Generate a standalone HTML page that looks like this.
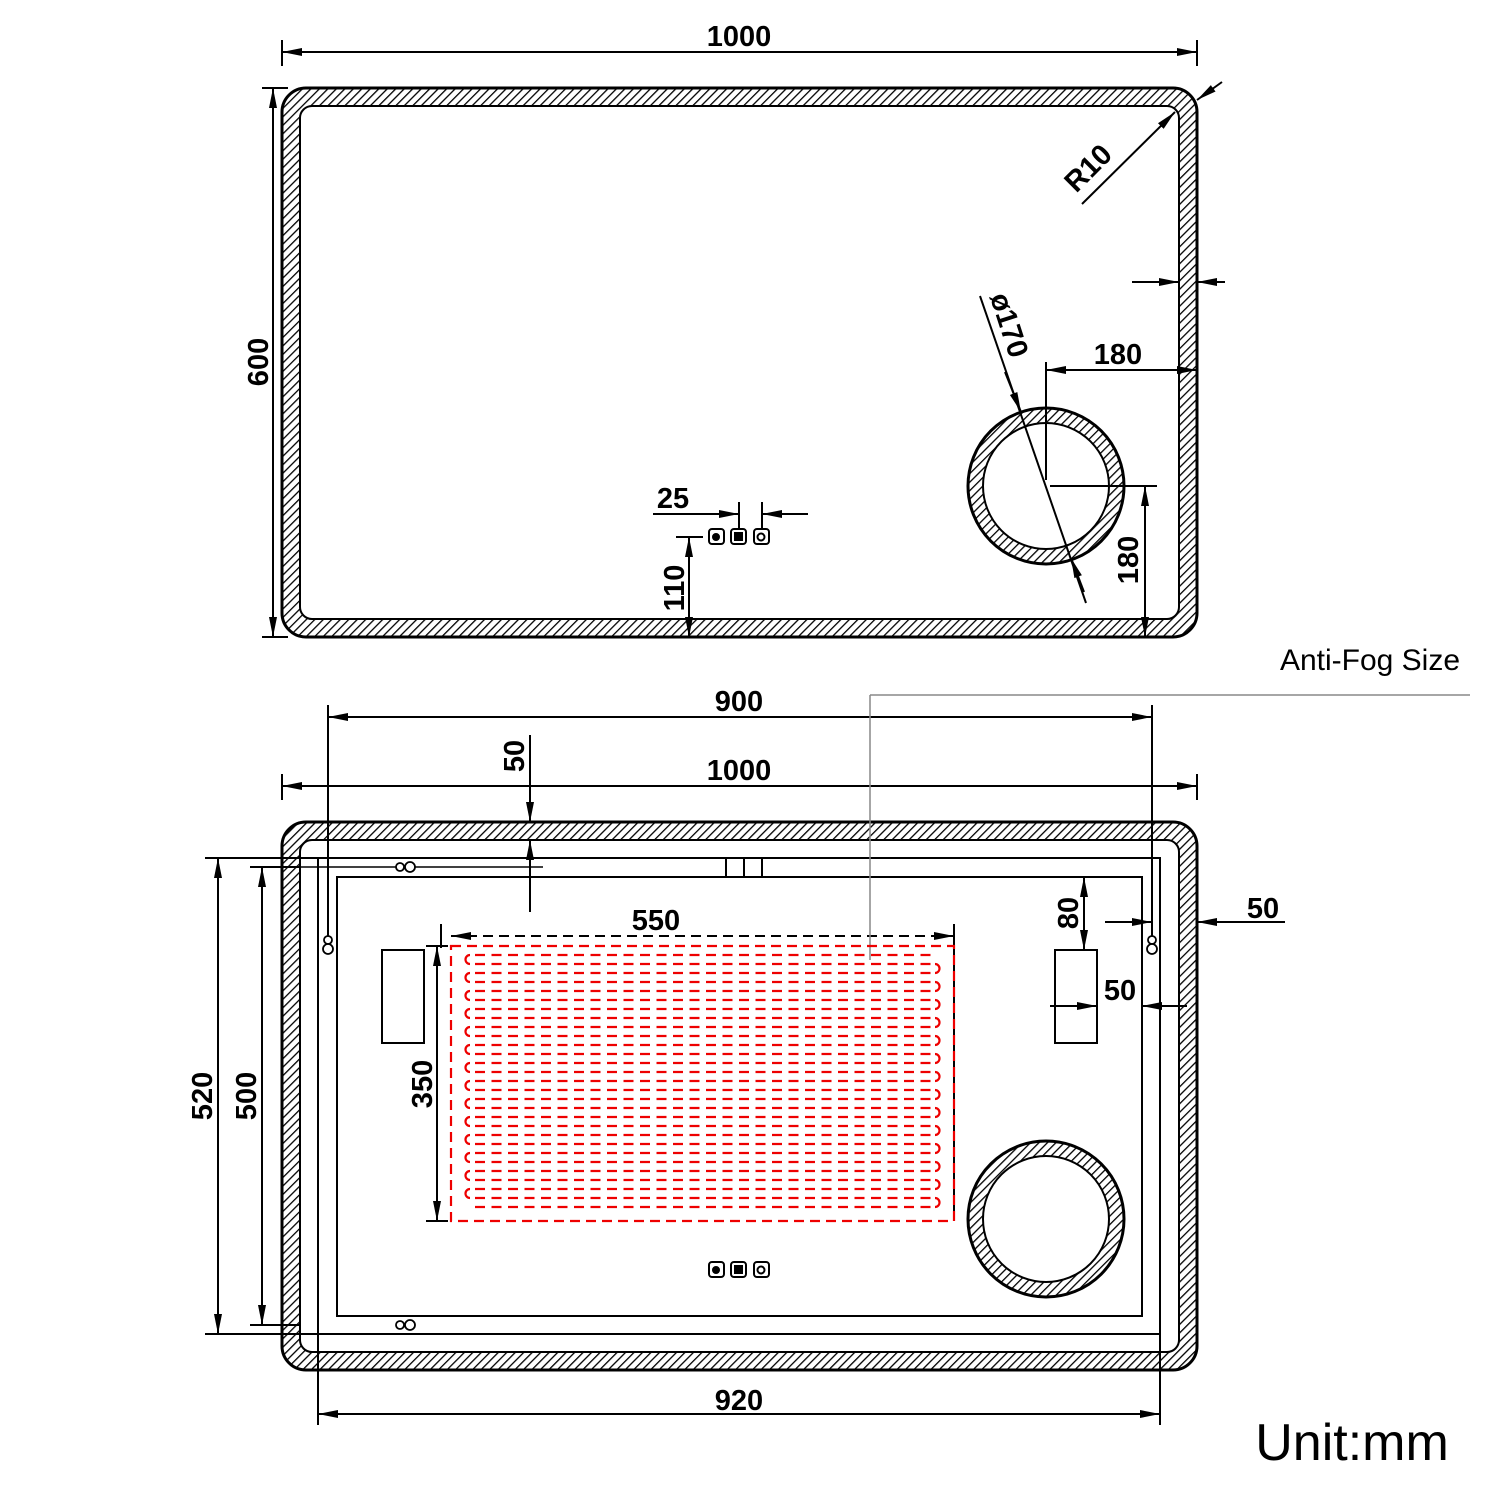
<!DOCTYPE html>
<html><head><style>body{margin:0;background:#fff}svg{display:block}text{font-family:"Liberation Sans",sans-serif;font-weight:bold;font-size:29px;fill:#000}</style></head><body>
<svg width="1500" height="1500" viewBox="0 0 1500 1500" xmlns="http://www.w3.org/2000/svg">
<defs>
<pattern id="h" width="6" height="6" patternUnits="userSpaceOnUse" patternTransform="rotate(45)"><rect width="6" height="6" fill="#fff"/><line x1="0" y1="0" x2="0" y2="6" stroke="#000" stroke-width="2.6"/></pattern>
<marker id="a" markerWidth="20" markerHeight="10" refX="20" refY="5" orient="auto-start-reverse" markerUnits="userSpaceOnUse"><path d="M0,1 L20,5 L0,9z" fill="#000"/></marker>
</defs>
<g stroke="#000" stroke-width="2" fill="none">
<rect x="282" y="88" width="915" height="549" rx="24" fill="url(#h)" stroke-width="3"/>
<rect x="300" y="106" width="879" height="513" rx="12" fill="#fff"/>
<circle cx="1046" cy="486" r="78" fill="url(#h)" stroke-width="3"/>
<circle cx="1046" cy="486" r="63" fill="#fff"/>
<rect x="282" y="822" width="915" height="548" rx="24" fill="url(#h)" stroke-width="3"/>
<rect x="300" y="840" width="879" height="512" rx="12" fill="#fff"/>
<rect x="318" y="858" width="842" height="476"/>
<rect x="337" y="877" width="805" height="439"/>
<circle cx="1046" cy="1219" r="78" fill="url(#h)" stroke-width="3"/>
<circle cx="1046" cy="1219" r="63" fill="#fff"/>
<line x1="726" y1="858" x2="726" y2="877"/><line x1="744" y1="858" x2="744" y2="877"/><line x1="762" y1="858" x2="762" y2="877"/>
<rect x="382" y="950" width="42" height="93"/>
<rect x="1055" y="950" width="42" height="93"/>
<line x1="282" y1="40" x2="282" y2="66"/><line x1="1197" y1="40" x2="1197" y2="66"/>
<line x1="282" y1="52" x2="1197" y2="52" marker-start="url(#a)" marker-end="url(#a)"/>
<line x1="262" y1="88" x2="288" y2="88"/><line x1="262" y1="637" x2="288" y2="637"/>
<line x1="273" y1="88" x2="273" y2="637" marker-start="url(#a)" marker-end="url(#a)"/>
<line x1="1082" y1="204" x2="1175" y2="112" marker-end="url(#a)"/><line x1="1222" y1="82" x2="1197" y2="100" marker-end="url(#a)"/>
<line x1="1132" y1="282" x2="1179" y2="282" marker-end="url(#a)"/><line x1="1225" y1="282" x2="1197" y2="282" marker-end="url(#a)"/>
<line x1="1046" y1="362" x2="1046" y2="480"/>
<line x1="1046" y1="370" x2="1197" y2="370" marker-start="url(#a)" marker-end="url(#a)"/>
<line x1="1050" y1="486" x2="1157" y2="486"/>
<line x1="1145" y1="486" x2="1145" y2="637" marker-start="url(#a)" marker-end="url(#a)"/>
<line x1="980" y1="296" x2="1086" y2="603"/>
<line x1="1005" y1="372" x2="1021" y2="412" marker-end="url(#a)"/><line x1="1084" y1="592" x2="1071" y2="558" marker-end="url(#a)"/>
<line x1="653" y1="514" x2="739" y2="514" marker-end="url(#a)"/><line x1="808" y1="514" x2="762" y2="514" marker-end="url(#a)"/>
<line x1="739" y1="502" x2="739" y2="528"/><line x1="762" y1="502" x2="762" y2="528"/>
<line x1="676" y1="537" x2="703" y2="537"/>
<line x1="689" y1="537" x2="689" y2="637" marker-start="url(#a)" marker-end="url(#a)"/>
<line x1="328" y1="705" x2="328" y2="940"/><line x1="1152" y1="705" x2="1152" y2="940"/>
<line x1="328" y1="717" x2="1152" y2="717" marker-start="url(#a)" marker-end="url(#a)"/>
<line x1="282" y1="774" x2="282" y2="800"/><line x1="1197" y1="774" x2="1197" y2="800"/>
<line x1="282" y1="786" x2="1197" y2="786" marker-start="url(#a)" marker-end="url(#a)"/>
<line x1="530" y1="735" x2="530" y2="822" marker-end="url(#a)"/><line x1="530" y1="912" x2="530" y2="840" marker-end="url(#a)"/>
<line x1="285" y1="867" x2="543" y2="867" stroke-width="1.5"/>
<line x1="205" y1="858" x2="318" y2="858"/><line x1="205" y1="1334" x2="318" y2="1334"/>
<line x1="218" y1="858" x2="218" y2="1334" marker-start="url(#a)" marker-end="url(#a)"/>
<line x1="250" y1="867" x2="300" y2="867"/><line x1="250" y1="1325" x2="300" y2="1325"/>
<line x1="262" y1="867" x2="262" y2="1325" marker-start="url(#a)" marker-end="url(#a)"/>
<line x1="318" y1="1334" x2="318" y2="1425"/><line x1="1160" y1="1334" x2="1160" y2="1425"/>
<line x1="318" y1="1414" x2="1160" y2="1414" marker-start="url(#a)" marker-end="url(#a)"/>
<line x1="1072" y1="877" x2="1100" y2="877"/>
<line x1="1084" y1="877" x2="1084" y2="950" marker-start="url(#a)" marker-end="url(#a)"/>
<line x1="1105" y1="922" x2="1152" y2="922" marker-end="url(#a)"/><line x1="1285" y1="922" x2="1197" y2="922" marker-end="url(#a)"/>
<line x1="1050" y1="1006" x2="1097" y2="1006" marker-end="url(#a)"/><line x1="1187" y1="1006" x2="1142" y2="1006" marker-end="url(#a)"/>
<line x1="441" y1="924" x2="441" y2="948"/><line x1="954" y1="924" x2="954" y2="948"/>
<line x1="451" y1="936" x2="954" y2="936" stroke-dasharray="10 6" marker-start="url(#a)" marker-end="url(#a)"/>
<line x1="426" y1="946" x2="448" y2="946"/><line x1="426" y1="1221" x2="448" y2="1221"/>
<line x1="437" y1="946" x2="437" y2="1221" marker-start="url(#a)" marker-end="url(#a)"/>
<line x1="954" y1="946" x2="954" y2="1221" stroke-dasharray="10 6"/>
<line x1="870" y1="695" x2="1470" y2="695" stroke="#888" stroke-width="1.5"/><line x1="870" y1="695" x2="870" y2="960" stroke="#888" stroke-width="1.5"/>
<g stroke-width="1.8"><circle cx="400" cy="867" r="4" fill="#fff"/><circle cx="410" cy="867" r="5" fill="#fff"/>
<circle cx="400" cy="1325" r="4" fill="#fff"/><circle cx="410" cy="1325" r="5" fill="#fff"/>
<circle cx="328" cy="940" r="4" fill="#fff"/><circle cx="328" cy="949" r="5" fill="#fff"/>
<circle cx="1152" cy="940" r="4" fill="#fff"/><circle cx="1152" cy="949" r="5" fill="#fff"/></g>
<g stroke-width="2"><rect x="709" y="529" width="15" height="15" rx="3"/><rect x="731" y="529" width="15" height="15" rx="3"/><rect x="754" y="529" width="15" height="15" rx="3"/>
<rect x="709" y="1262" width="15" height="15" rx="3"/><rect x="731" y="1262" width="15" height="15" rx="3"/><rect x="754" y="1262" width="15" height="15" rx="3"/></g>
<circle cx="716" cy="537" r="3" fill="#000"/><rect x="735" y="533" width="7" height="7" fill="#000"/><circle cx="761" cy="537" r="3.5"/>
<circle cx="716" cy="1270" r="3" fill="#000"/><rect x="735" y="1266" width="7" height="7" fill="#000"/><circle cx="761" cy="1270" r="3.5"/>
</g>
<g stroke="#e00" stroke-width="2.2" fill="none">
<rect x="451" y="946" width="503" height="275" stroke-dasharray="10 6"/>
<g stroke-dasharray="10 6.5" stroke-dashoffset="-5">
<line x1="470" y1="955" x2="935" y2="955"/><line x1="470" y1="964" x2="935" y2="964"/><line x1="470" y1="973" x2="935" y2="973"/><line x1="470" y1="982" x2="935" y2="982"/><line x1="470" y1="991" x2="935" y2="991"/><line x1="470" y1="1000" x2="935" y2="1000"/><line x1="470" y1="1009" x2="935" y2="1009"/><line x1="470" y1="1018" x2="935" y2="1018"/><line x1="470" y1="1027" x2="935" y2="1027"/><line x1="470" y1="1036" x2="935" y2="1036"/><line x1="470" y1="1045" x2="935" y2="1045"/><line x1="470" y1="1054" x2="935" y2="1054"/><line x1="470" y1="1063" x2="935" y2="1063"/><line x1="470" y1="1072" x2="935" y2="1072"/><line x1="470" y1="1081" x2="935" y2="1081"/><line x1="470" y1="1090" x2="935" y2="1090"/><line x1="470" y1="1099" x2="935" y2="1099"/><line x1="470" y1="1108" x2="935" y2="1108"/><line x1="470" y1="1117" x2="935" y2="1117"/><line x1="470" y1="1126" x2="935" y2="1126"/><line x1="470" y1="1135" x2="935" y2="1135"/><line x1="470" y1="1144" x2="935" y2="1144"/><line x1="470" y1="1153" x2="935" y2="1153"/><line x1="470" y1="1162" x2="935" y2="1162"/><line x1="470" y1="1171" x2="935" y2="1171"/><line x1="470" y1="1180" x2="935" y2="1180"/><line x1="470" y1="1189" x2="935" y2="1189"/><line x1="470" y1="1198" x2="935" y2="1198"/><line x1="470" y1="1207" x2="935" y2="1207"/>
</g>
<path d="M470,955 a4.5,4.5 0 0 0 0,9 M470,973 a4.5,4.5 0 0 0 0,9 M470,991 a4.5,4.5 0 0 0 0,9 M470,1009 a4.5,4.5 0 0 0 0,9 M470,1027 a4.5,4.5 0 0 0 0,9 M470,1045 a4.5,4.5 0 0 0 0,9 M470,1063 a4.5,4.5 0 0 0 0,9 M470,1081 a4.5,4.5 0 0 0 0,9 M470,1099 a4.5,4.5 0 0 0 0,9 M470,1117 a4.5,4.5 0 0 0 0,9 M470,1135 a4.5,4.5 0 0 0 0,9 M470,1153 a4.5,4.5 0 0 0 0,9 M470,1171 a4.5,4.5 0 0 0 0,9 M470,1189 a4.5,4.5 0 0 0 0,9
M935,964 a4.5,4.5 0 0 1 0,9 M935,982 a4.5,4.5 0 0 1 0,9 M935,1000 a4.5,4.5 0 0 1 0,9 M935,1018 a4.5,4.5 0 0 1 0,9 M935,1036 a4.5,4.5 0 0 1 0,9 M935,1054 a4.5,4.5 0 0 1 0,9 M935,1072 a4.5,4.5 0 0 1 0,9 M935,1090 a4.5,4.5 0 0 1 0,9 M935,1108 a4.5,4.5 0 0 1 0,9 M935,1126 a4.5,4.5 0 0 1 0,9 M935,1144 a4.5,4.5 0 0 1 0,9 M935,1162 a4.5,4.5 0 0 1 0,9 M935,1180 a4.5,4.5 0 0 1 0,9 M935,1198 a4.5,4.5 0 0 1 0,9"/>
</g>
<text x="739" y="46" text-anchor="middle">1000</text>
<text transform="translate(268,362) rotate(-90)" text-anchor="middle">600</text>
<text transform="translate(1095,175) rotate(-45)" text-anchor="middle">R10</text>
<text transform="translate(1000,328) rotate(72)" text-anchor="middle">ø170</text>
<text x="1118" y="364" text-anchor="middle">180</text>
<text transform="translate(1138,560) rotate(-90)" text-anchor="middle">180</text>
<text x="673" y="508" text-anchor="middle">25</text>
<text transform="translate(684,588) rotate(-90)" text-anchor="middle">110</text>
<text x="739" y="711" text-anchor="middle">900</text>
<text x="739" y="780" text-anchor="middle">1000</text>
<text transform="translate(524,756) rotate(-90)" text-anchor="middle">50</text>
<text x="656" y="930" text-anchor="middle">550</text>
<text transform="translate(432,1084) rotate(-90)" text-anchor="middle">350</text>
<text transform="translate(212,1096) rotate(-90)" text-anchor="middle">520</text>
<text transform="translate(256,1096) rotate(-90)" text-anchor="middle">500</text>
<text transform="translate(1078,913) rotate(-90)" text-anchor="middle">80</text>
<text x="1263" y="918" text-anchor="middle">50</text>
<text x="1120" y="1000" text-anchor="middle">50</text>
<text x="739" y="1410" text-anchor="middle">920</text>
<text x="1370" y="670" text-anchor="middle" style="font-size:30px;font-weight:normal">Anti-Fog Size</text>
<text x="1352" y="1460" text-anchor="middle" style="font-size:52px;font-weight:normal">Unit:mm</text>
</svg>
</body></html>
